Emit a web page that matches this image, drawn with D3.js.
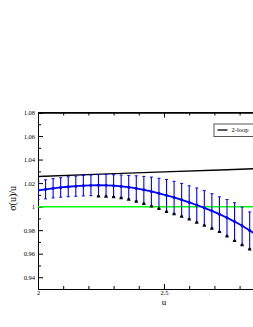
<!DOCTYPE html>
<html>
<head>
<meta charset="utf-8">
<script src="https://cdn.jsdelivr.net/npm/d3@7"></script>
<style>
  html, body { margin: 0; padding: 0; background: #fff; overflow: hidden; }
  #chart { width: 253px; height: 327px; overflow: hidden; }
  text { font-family: "Liberation Serif", "DejaVu Serif", serif; }
</style>
</head>
<body>
<div id="chart"></div>
<script>
// dati
const uValues = [2.00, 2.03, 2.06, 2.09, 2.12, 2.15, 2.18, 2.21, 2.24, 2.27,
                 2.30, 2.33, 2.36, 2.39, 2.42, 2.45, 2.48, 2.51, 2.54, 2.57,
                 2.60, 2.63, 2.66, 2.69, 2.72, 2.75, 2.78, 2.81, 2.84, 2.87];
const sigmaValues = [1.0138, 1.0147, 1.0156, 1.0163, 1.0169, 1.0174, 1.0178, 1.0181, 1.0182, 1.0181,
                     1.0178, 1.0173, 1.0165, 1.0155, 1.0143, 1.0129, 1.0113, 1.0096, 1.0078, 1.0058,
                     1.0037, 1.0014, 0.9990, 0.9964, 0.9936, 0.9906, 0.9873, 0.9837, 0.9798, 0.9756];
const sigmaErrors = [0.0077, 0.0081, 0.0082, 0.0083, 0.0085, 0.0086, 0.0087, 0.0088, 0.0090, 0.0092,
                     0.0093, 0.0096, 0.0100, 0.0107, 0.0114, 0.0122, 0.0128, 0.0135, 0.0137, 0.0139,
                     0.0140, 0.0145, 0.0146, 0.0146, 0.0147, 0.0154, 0.0160, 0.0160, 0.0157, 0.0160];
// marcatori neri in fondo alle barre (da u = 2.24 in poi)
const markerStartU = 2.24;

const loopU = [2.0, 2.25, 2.5, 2.75, 3.0];
const loopValues = [1.0256, 1.0276, 1.0295, 1.0314, 1.0333];

const xMajorTicks = [2, 2.5];
const xMinorTicks = [2.1, 2.2, 2.3, 2.4, 2.6, 2.7, 2.8, 2.9];
const yMajorTicks = [0.94, 0.96, 0.98, 1, 1.02, 1.04, 1.06, 1.08];
const yMinorTicks = [0.93, 0.95, 0.97, 0.99, 1.01, 1.03, 1.05, 1.07];

const legendLabels = ['2-loop'];

const width = 300, height = 327;
const plot = { left: 38, right: 290, top: 112.5, bottom: 289 };

const svg = d3.select('#chart').append('svg')
    .attr('width', width)
    .attr('height', height);

const x = d3.scaleLinear().domain([2, 3]).range([plot.left, plot.right]);
const y = d3.scaleLinear().domain([0.93, 1.08]).range([plot.bottom, plot.top]);

const fmtY = d => d === 1 ? '1' : d3.format('.2f')(d);
const fmtX = d => d === 2 ? '2' : d3.format('.1f')(d);

// cornice
svg.append('line')
    .attr('x1', plot.left).attr('x2', plot.right)
    .attr('y1', plot.top).attr('y2', plot.top)
    .attr('stroke', '#000').attr('stroke-width', 1);
svg.append('line')
    .attr('x1', plot.right).attr('x2', plot.right)
    .attr('y1', plot.top).attr('y2', plot.bottom)
    .attr('stroke', '#000').attr('stroke-width', 1);

// assi
const axisStyle = g => {
    g.select('.domain').attr('stroke', '#000').attr('stroke-width', 1);
    g.selectAll('.tick line').attr('stroke', '#000');
    g.selectAll('.tick text').attr('fill', '#000')
        .attr('font-family', '"Liberation Serif", serif')
        .attr('font-size', '6.5px');
};

svg.append('g')
    .attr('transform', `translate(${plot.left},0)`)
    .call(d3.axisLeft(y).tickValues(yMinorTicks).tickSize(-3).tickFormat(''))
    .call(axisStyle);
svg.append('g')
    .attr('transform', `translate(${plot.left},0)`)
    .call(d3.axisLeft(y).tickValues(yMajorTicks).tickSize(-5).tickPadding(3).tickFormat(fmtY))
    .call(axisStyle);

svg.append('g')
    .attr('transform', `translate(0,${plot.bottom})`)
    .call(d3.axisBottom(x).tickValues(xMinorTicks).tickSize(-3).tickFormat(''))
    .call(axisStyle);
svg.append('g')
    .attr('transform', `translate(0,${plot.bottom})`)
    .call(d3.axisBottom(x).tickValues(xMajorTicks).tickSize(-5).tickPadding(1.5).tickFormat(fmtX))
    .call(axisStyle);

// tacche in alto
svg.append('g')
    .attr('transform', `translate(0,${plot.top})`)
    .call(d3.axisTop(x).tickValues(xMinorTicks).tickSize(-3).tickFormat(''))
    .call(axisStyle);
svg.append('g')
    .attr('transform', `translate(0,${plot.top})`)
    .call(d3.axisTop(x).tickValues(xMajorTicks).tickSize(-5).tickFormat(''))
    .call(axisStyle);

// titoli assi
svg.append('text')
    .attr('x', x(2.5)).attr('y', 305)
    .attr('text-anchor', 'middle')
    .attr('font-size', '9px')
    .text('u');
svg.append('text')
    .attr('transform', `translate(15.5,${y(1.007)}) rotate(-90)`)
    .attr('text-anchor', 'middle')
    .attr('font-size', '10px')
    .text('σ(u)/u');

svg.append('clipPath').attr('id', 'clip')
    .append('rect')
    .attr('x', plot.left).attr('y', plot.top)
    .attr('width', plot.right - plot.left).attr('height', plot.bottom - plot.top);
const area = svg.append('g').attr('clip-path', 'url(#clip)');

// linea a 1
area.append('line')
    .attr('x1', x(2)).attr('x2', x(3))
    .attr('y1', y(1)).attr('y2', y(1))
    .attr('stroke', '#00ff00').attr('stroke-width', 1.5);

// 2-loop
const loopData = loopU.map((u, i) => ({ u: u, v: loopValues[i] }));
area.append('path')
    .datum(loopData)
    .attr('fill', 'none')
    .attr('stroke', '#000')
    .attr('stroke-width', 1.4)
    .attr('d', d3.line().x(d => x(d.u)).y(d => y(d.v)));

// serie blu
const data = uValues.map((u, i) => ({ u: u, v: sigmaValues[i], e: sigmaErrors[i] }));

const bars = area.append('g').selectAll('g')
    .data(data)
    .enter()
    .append('g');

bars.append('line')
    .attr('x1', d => x(d.u)).attr('x2', d => x(d.u))
    .attr('y1', d => y(d.v + d.e)).attr('y2', d => y(d.v - d.e))
    .attr('stroke', '#0000ff').attr('stroke-width', 1.1);
bars.append('line')
    .attr('x1', d => x(d.u) - 1.5).attr('x2', d => x(d.u) + 1.5)
    .attr('y1', d => y(d.v + d.e)).attr('y2', d => y(d.v + d.e))
    .attr('stroke', '#0000ff').attr('stroke-width', 1);
bars.append('line')
    .attr('x1', d => x(d.u) - 1.5).attr('x2', d => x(d.u) + 1.5)
    .attr('y1', d => y(d.v - d.e)).attr('y2', d => y(d.v - d.e))
    .attr('stroke', '#0000ff').attr('stroke-width', 1);

area.append('path')
    .datum(data)
    .attr('fill', 'none')
    .attr('stroke', '#0000ff')
    .attr('stroke-width', 1.8)
    .attr('d', d3.line().x(d => x(d.u)).y(d => y(d.v)));

area.append('g').selectAll('circle')
    .data(data)
    .enter()
    .append('circle')
    .attr('cx', d => x(d.u))
    .attr('cy', d => y(d.v))
    .attr('r', 1.5)
    .attr('fill', '#0000ff');

// triangolini neri
const tri = d3.symbol().type(d3.symbolTriangle).size(7);
area.append('g').selectAll('path')
    .data(data.filter(d => d.u >= markerStartU - 1e-9))
    .enter()
    .append('path')
    .attr('transform', d => `translate(${x(d.u)},${y(d.v - d.e) + 0.5})`)
    .attr('d', tri)
    .attr('fill', '#000');

// legenda
const legend = svg.append('g').attr('transform', 'translate(214,124)');
legend.append('rect')
    .attr('width', 70).attr('height', 12.5)
    .attr('fill', '#fff')
    .attr('stroke', '#555').attr('stroke-width', 1);
legendLabels.forEach((label, i) => {
    legend.append('line')
        .attr('x1', 3.5).attr('x2', 13.5)
        .attr('y1', 6 + i * 10).attr('y2', 6 + i * 10)
        .attr('stroke', '#000').attr('stroke-width', 1.3);
    legend.append('text')
        .attr('x', 17.5).attr('y', 8.3 + i * 10)
        .attr('font-size', '6.5px')
        .attr('fill', '#000')
        .text(label);
});
</script>
</body>
</html>
